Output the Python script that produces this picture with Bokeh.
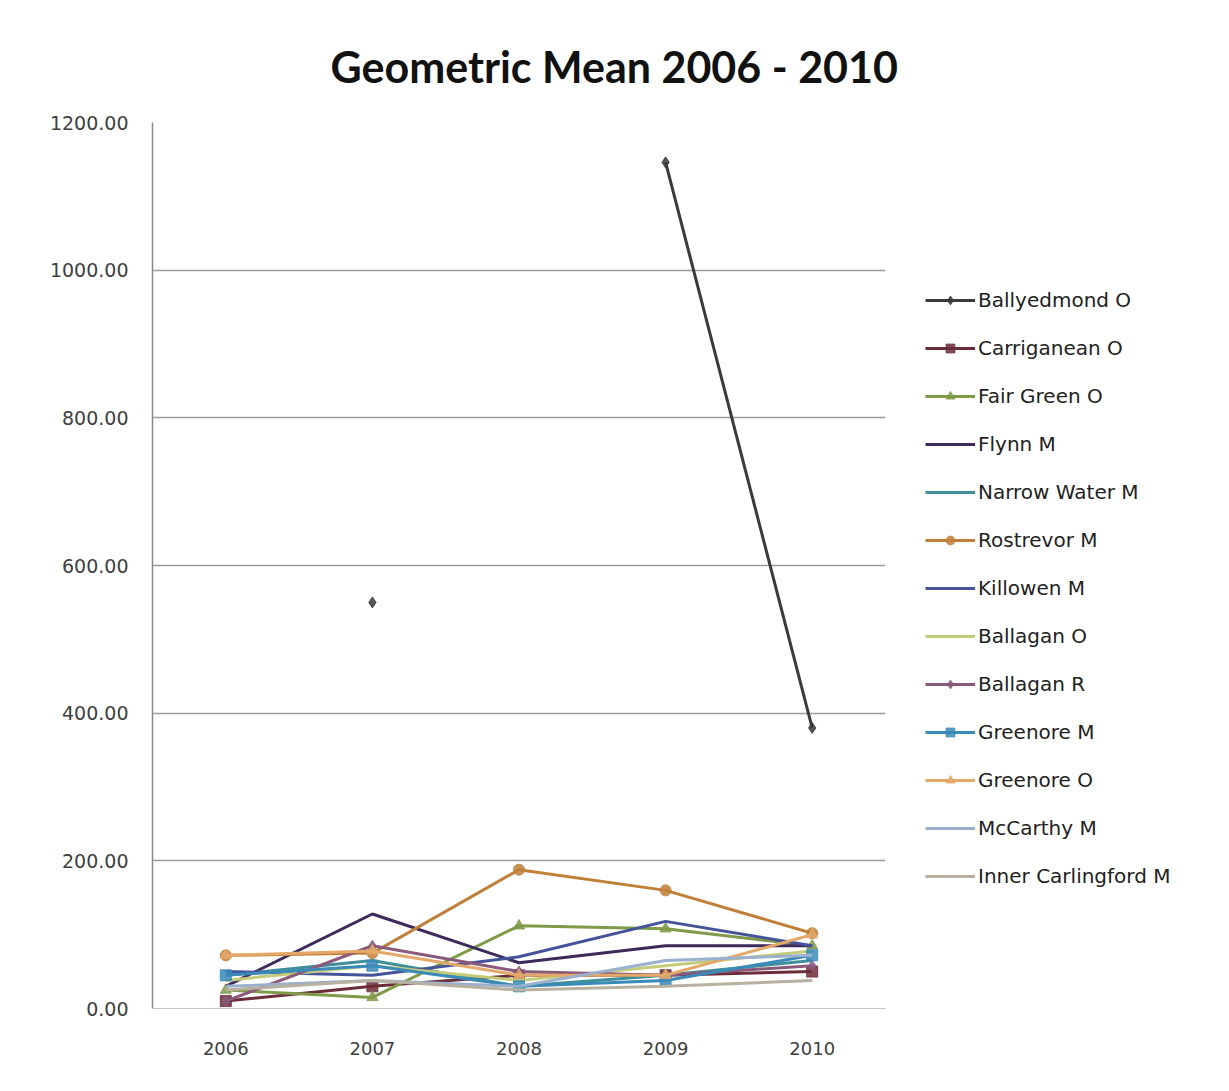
import numpy as np
from bokeh.plotting import figure
from bokeh.models import FactorRange, Range1d, Legend, LegendItem, NumeralTickFormatter
from bokeh.embed import file_html
from bokeh.resources import INLINE

nan = np.nan
years = ["2006", "2007", "2008", "2009", "2010"]
y_ticks = [0, 200, 400, 600, 800, 1000, 1200]

series_names = ["Ballyedmond O", "Carriganean O", "Fair Green O", "Flynn M", "Narrow Water M",
                "Rostrevor M", "Killowen M", "Ballagan O", "Ballagan R", "Greenore M",
                "Greenore O", "McCarthy M", "Inner Carlingford M"]

ballyedmond_o = [nan, 550, nan, 1146, 380]
carriganean_o = [10, 30, 45, 45, 50]
fair_green_o = [25, 15, 112, 108, 85]
flynn_m = [30, 128, 62, 85, 85]
narrow_water_m = [45, 65, 30, 45, 65]
rostrevor_m = [72, 75, 188, 160, 102]
killowen_m = [50, 45, 70, 118, 85]
ballagan_o = [38, 58, 38, 58, 78]
ballagan_r = [10, 85, 50, 45, 58]
greenore_m = [45, 58, 30, 38, 72]
greenore_o = [72, 78, 45, 45, 100]
mccarthy_m = [30, 38, 30, 65, 72]
inner_carlingford_m = [25, 38, 25, 30, 38]

all_values = [ballyedmond_o, carriganean_o, fair_green_o, flynn_m, narrow_water_m, rostrevor_m,
              killowen_m, ballagan_o, ballagan_r, greenore_m, greenore_o, mccarthy_m,
              inner_carlingford_m]

colors = ["#3a3a3a", "#6b2d3a", "#7f9a48", "#3b2a5a", "#3f8f9a", "#c0803a", "#45549a",
          "#c4cc7a", "#8b5a7a", "#3a8ab8", "#e4a868", "#9ab0cc", "#b8b0a0"]
markers = ["diamond", "square", "triangle", None, None, "circle", None,
           None, "diamond", "square", "triangle", None, None]

p = figure(frame_width=733, frame_height=886, output_backend="svg", toolbar_location=None,
           x_range=FactorRange(*years), y_range=Range1d(0, 1200),
           min_border_left=152, min_border_right=0, min_border_top=122, min_border_bottom=70)
p.outline_line_color = None
p.background_fill_color = "white"

p.title.text = "Geometric Mean 2006 - 2010"
p.title.align = "left"
p.title.offset = 178
p.title.standoff = 61
p.title.text_font = "Lato"
p.title.text_font_style = "bold"
p.title.text_font_size = "43px"
p.title.text_color = "#111111"

p.xgrid.grid_line_color = None
p.ygrid.grid_line_color = "#9a9a9a"
p.ygrid.grid_line_width = 1.5
p.yaxis.ticker = y_ticks
p.yaxis.formatter = NumeralTickFormatter(format="0.00")
p.yaxis.axis_line_color = "#8a8a8a"
p.yaxis.axis_line_width = 1.5
p.yaxis.major_tick_line_color = None
p.yaxis.minor_tick_line_color = None
p.yaxis.major_label_standoff = 18
p.yaxis.major_label_text_font = "DejaVu Sans"
p.yaxis.major_label_text_font_size = "19px"
p.yaxis.major_label_text_color = "#404040"

p.xaxis.axis_line_color = "#c8c8c8"
p.xaxis.major_tick_line_color = None
p.xaxis.major_label_standoff = 27
p.xaxis.major_label_text_font = "DejaVu Sans"
p.xaxis.major_label_text_font_size = "18px"
p.xaxis.major_label_text_color = "#404040"

items = []
for name, vals, c, m in zip(series_names, all_values, colors, markers):
    rs = []
    rs.append(p.line(years, vals, line_color=c, line_width=3))
    if m is not None:
        rs.append(p.scatter(years, vals, marker=m, size=11, fill_color=c, line_color=c, alpha=0.85))
    items.append(LegendItem(label=name, renderers=rs))

legend = Legend(items=items, location=(40, 120), padding=0, margin=0,
                border_line_color=None, background_fill_alpha=0,
                glyph_width=50, glyph_height=22, label_height=22, spacing=24,
                label_standoff=3, label_text_font="DejaVu Sans", label_text_font_size="20px",
                label_text_color="#222222")
p.add_layout(legend, "right")

open("out.html", "w").write(file_html(p, INLINE))
